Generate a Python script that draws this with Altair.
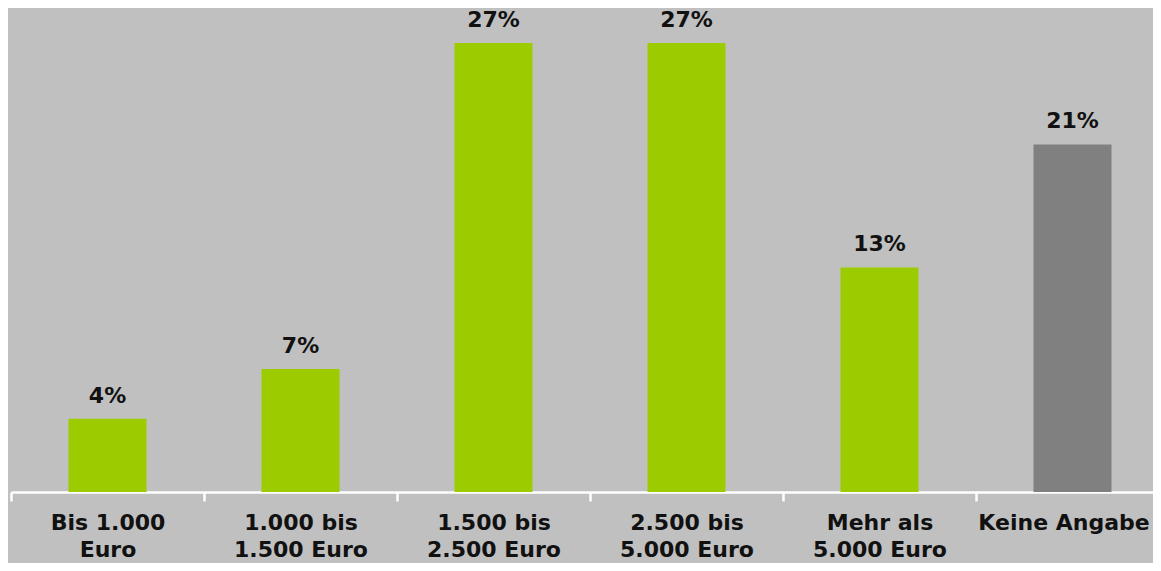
import altair as alt
import pandas as pd

categories = [
    "Bis 1.000\nEuro",
    "1.000 bis\n1.500 Euro",
    "1.500 bis\n2.500 Euro",
    "2.500 bis\n5.000 Euro",
    "Mehr als\n5.000 Euro",
    "Keine Angabe",
]
values = [4.4, 7.4, 27.0, 27.0, 13.5, 20.9]
labels = ["4%", "7%", "27%", "27%", "13%", "21%"]

df = pd.DataFrame({"cat": categories, "value": values, "label": labels})

FONT = "DejaVu Sans"

x = alt.X(
    "cat:N",
    sort=categories,
    scale=alt.Scale(paddingInner=0, paddingOuter=0, range=[0, 1158]),
    axis=alt.Axis(
        title=None,
        labelAngle=0,
        labelExpr="split(datum.label, '\\n')",
        labelFont=FONT,
        labelFontSize=22,
        labelFontWeight="bold",
        labelColor="#111111",
        labelLineHeight=27,
        labelBaseline="top",
        labelPadding=11,
        labelLimit=400,
        labelOffset={"condition": {"test": "datum.value == 'Keine Angabe'", "value": -9}, "value": 0},
        domainColor="white",
        domainWidth=2.5,
        tickColor="white",
        tickWidth=2.5,
        tickSize=9,
        tickBand="extent",
    ),
)
y = alt.Y("value:Q", scale=alt.Scale(domain=[0, 29.1], nice=False), axis=None)

bars = alt.Chart(df).mark_bar(size=78).encode(
    x=x,
    y=y,
    color=alt.condition(alt.datum.cat == "Keine Angabe", alt.value("#808080"), alt.value("#9CCC00")),
)

text = alt.Chart(df).mark_text(
    font=FONT, fontSize=22, fontWeight="bold", color="#111111", baseline="alphabetic", dy=-16
).encode(x=x, y=y, text="label:N")

chart = (
    alt.layer(bars, text)
    .properties(width=1142, height=484, background="#C0C0C0",
                autosize=alt.AutoSizeParams(type="none"),
                padding={"left": 3, "top": 0, "right": 0, "bottom": 71})
    .configure_view(stroke=None)
)

chart.save("out.html", embed_options={"renderer": "svg", "actions": False})
